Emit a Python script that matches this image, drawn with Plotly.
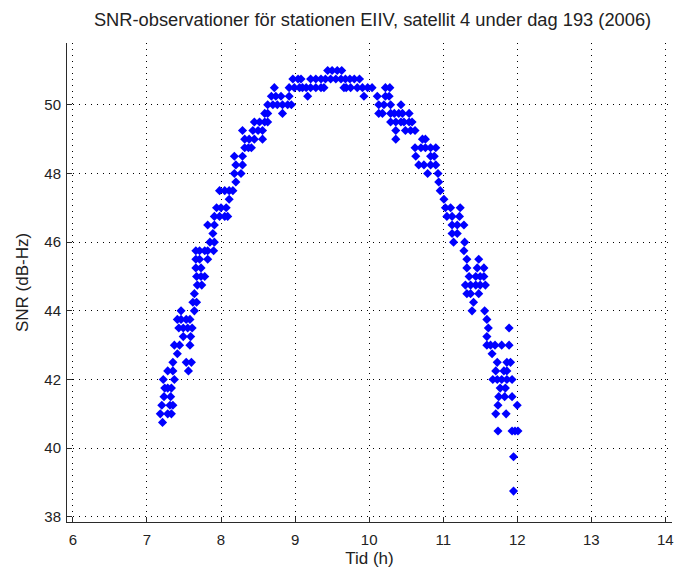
import plotly.graph_objects as go

# ---- data (time in hours, SNR in dB-Hz) ----
rise_time = [
    7.21,
    7.18, 7.28, 7.33,
    7.20, 7.31, 7.35,
    7.23, 7.32,
    7.24, 7.28, 7.33,
    7.22, 7.37,
    7.28, 7.35, 7.56,
    7.35, 7.53, 7.60,
    7.41,
    7.37, 7.44, 7.58,
    7.49, 7.59,
    7.43, 7.49, 7.55, 7.61,
    7.41, 7.46, 7.53, 7.58,
    7.46, 7.64,
    7.62, 7.67,
    7.64,
    7.68, 7.74,
    7.67, 7.73, 7.78,
    7.66, 7.73,
    7.66, 7.71, 7.82,
    7.66, 7.71, 7.78, 7.82, 7.90,
    7.85, 7.91,
    7.89,
    7.82, 7.91,
    7.91, 7.98, 8.05, 8.09,
    7.94, 8.00, 8.07,
    8.11,
    7.98, 8.05, 8.11, 8.16,
    8.20,
    8.18, 8.27,
    8.20, 8.29,
    8.18, 8.29,
    8.32, 8.37, 8.41,
    8.32, 8.38, 8.45, 8.56,
    8.29, 8.43, 8.50, 8.56,
    8.45, 8.52, 8.59, 8.63,
    8.59, 8.63, 8.83,
    8.63, 8.70, 8.76, 8.83, 8.90, 8.95,
    8.68, 8.74, 8.81, 8.92,
    8.72,
]
rise_snr = [
    40.75,
    41.0, 41.0, 41.0,
    41.25, 41.25, 41.25,
    41.5, 41.5,
    41.75, 41.75, 41.75,
    42.0, 42.0,
    42.25, 42.25, 42.25,
    42.5, 42.5, 42.5,
    42.75,
    43.0, 43.0, 43.0,
    43.25, 43.25,
    43.5, 43.5, 43.5, 43.5,
    43.75, 43.75, 43.75, 43.75,
    44.0, 44.0,
    44.25, 44.25,
    44.5,
    44.75, 44.75,
    45.0, 45.0, 45.0,
    45.25, 45.25,
    45.5, 45.5, 45.5,
    45.75, 45.75, 45.75, 45.75, 45.75,
    46.0, 46.0,
    46.25,
    46.5, 46.5,
    46.75, 46.75, 46.75, 46.75,
    47.0, 47.0, 47.0,
    47.25,
    47.5, 47.5, 47.5, 47.5,
    47.75,
    48.0, 48.0,
    48.25, 48.25,
    48.5, 48.5,
    48.75, 48.75, 48.75,
    49.0, 49.0, 49.0, 49.0,
    49.25, 49.25, 49.25, 49.25,
    49.5, 49.5, 49.5, 49.5,
    49.75, 49.75, 49.75,
    50.0, 50.0, 50.0, 50.0, 50.0, 50.0,
    50.25, 50.25, 50.25, 50.25,
    50.5,
]

peak_time = [
    9.44, 9.50, 9.57, 9.63,
    8.97, 9.04, 9.08, 9.21, 9.28, 9.35, 9.41, 9.48, 9.55, 9.62, 9.68, 9.74, 9.80, 9.87,
    8.92, 8.99, 9.06, 9.10, 9.15, 9.21, 9.28, 9.35, 9.39, 9.66, 9.69, 9.75, 9.84, 9.91,
    9.98, 10.04, 10.22, 10.28,
    9.17, 9.93, 10.11, 10.22, 10.27,
]
peak_snr = [
    51.0, 51.0, 51.0, 51.0,
    50.75, 50.75, 50.75, 50.75, 50.75, 50.75, 50.75, 50.75, 50.75, 50.75, 50.75, 50.75, 50.75, 50.75,
    50.5, 50.5, 50.5, 50.5, 50.5, 50.5, 50.5, 50.5, 50.5, 50.5, 50.5, 50.5, 50.5, 50.5,
    50.5, 50.5, 50.5, 50.5,
    50.25, 50.25, 50.25, 50.25, 50.25,
]

fall_time = [
    10.13, 10.20, 10.29, 10.43,
    10.13, 10.18, 10.29, 10.34, 10.40, 10.45, 10.54,
    10.29, 10.36, 10.43, 10.47, 10.54, 10.58,
    10.36, 10.49, 10.56, 10.62,
    10.36, 10.72, 10.76,
    10.62, 10.70, 10.76, 10.83, 10.90,
    10.63, 10.83, 10.88,
    10.67, 10.74, 10.83, 10.90,
    10.79, 10.93,
    10.94,
    10.96,
    11.01,
    11.03, 11.10, 11.23,
    11.05, 11.12, 11.22,
    11.12, 11.19, 11.28,
    11.12, 11.19,
    11.14, 11.29,
    11.28,
    11.32, 11.48,
    11.32, 11.46, 11.55,
    11.35, 11.44, 11.50, 11.55,
    11.30, 11.37, 11.44, 11.50, 11.57,
    11.32, 11.37, 11.48,
    11.41,
    11.39, 11.56,
    11.59,
    11.61, 11.89,
    11.59,
    11.59, 11.64, 11.70, 11.79, 11.89,
    11.66,
    11.73, 11.86, 11.91,
    11.71, 11.82, 11.86,
    11.67, 11.73, 11.79, 11.86, 11.93,
    11.77, 11.84,
    11.75, 11.83, 11.93,
    11.74, 12.00,
    11.71, 11.85,
    11.74, 11.93, 11.97, 12.01,
    11.95,
    11.95,
]
fall_snr = [
    50.0, 50.0, 50.0, 50.0,
    49.75, 49.75, 49.75, 49.75, 49.75, 49.75, 49.75,
    49.5, 49.5, 49.5, 49.5, 49.5, 49.5,
    49.25, 49.25, 49.25, 49.25,
    49.0, 49.0, 49.0,
    48.75, 48.75, 48.75, 48.75, 48.75,
    48.5, 48.5, 48.5,
    48.25, 48.25, 48.25, 48.25,
    48.0, 48.0,
    47.75,
    47.5,
    47.25,
    47.0, 47.0, 47.0,
    46.75, 46.75, 46.75,
    46.5, 46.5, 46.5,
    46.25, 46.25,
    46.0, 46.0,
    45.75,
    45.5, 45.5,
    45.25, 45.25, 45.25,
    45.0, 45.0, 45.0, 45.0,
    44.75, 44.75, 44.75, 44.75, 44.75,
    44.5, 44.5, 44.5,
    44.25,
    44.0, 44.0,
    43.75,
    43.5, 43.5,
    43.25,
    43.0, 43.0, 43.0, 43.0, 43.0,
    42.75,
    42.5, 42.5, 42.5,
    42.25, 42.25, 42.25,
    42.0, 42.0, 42.0, 42.0, 42.0,
    41.75, 41.75,
    41.5, 41.5, 41.5,
    41.25, 41.25,
    41.0, 41.0,
    40.5, 40.5, 40.5, 40.5,
    39.75,
    38.75,
]

x_ticks = [6, 7, 8, 9, 10, 11, 12, 13, 14]
y_ticks = [38, 40, 42, 44, 46, 48, 50]

title_text = "SNR-observationer för stationen EIIV, satellit 4 under dag 193 (2006)"
x_label = "Tid (h)"
y_label = "SNR (dB-Hz)"

all_time = rise_time + peak_time + fall_time
all_snr = rise_snr + peak_snr + fall_snr

fig = go.Figure()
fig.add_trace(go.Scatter(
    x=all_time, y=all_snr, mode="markers",
    marker=dict(symbol="diamond", size=7, color="#0000FF", line=dict(width=0)),
    showlegend=False, hoverinfo="x+y",
))

axis_common = dict(
    showline=True, linecolor="#2a2a2a", linewidth=1, mirror=False,
    ticks="inside", ticklen=5, tickcolor="#2a2a2a", tickwidth=1,
    showgrid=True, gridcolor="#000000", griddash="1px,5px", gridwidth=1,
    zeroline=False, tickfont=dict(size=15, color="#222222"),
)

fig.update_layout(
    width=676, height=572,
    margin=dict(l=67, r=2, t=43, b=50),
    paper_bgcolor="white", plot_bgcolor="white",
    font=dict(family="Liberation Sans, Arial, sans-serif", size=15, color="#222222"),
    title=dict(text=title_text, x=0.505, xref="paper", xanchor="center",
               y=1 - 20 / 572, yref="container", yanchor="middle",
               font=dict(size=18.3, color="#222222")),
    xaxis=dict(range=[5.92, 14.09], tickvals=x_ticks, ticklabelstandoff=4,
               title=dict(text=x_label, standoff=5, font=dict(size=17)), **axis_common),
    yaxis=dict(range=[37.85, 51.8], tickvals=y_ticks, ticklabelstandoff=2,
               title=dict(text=y_label, standoff=11, font=dict(size=17)), **axis_common),
)

fig.write_html("out.html")
